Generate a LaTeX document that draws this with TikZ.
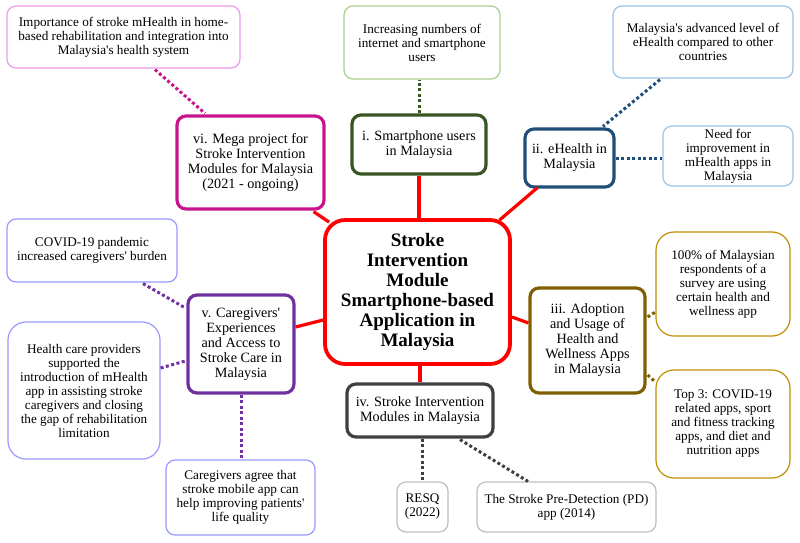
\documentclass[tikz,border=0pt]{standalone}
\usepackage{fontspec}
\setmainfont{Liberation Serif}[Ligatures=TeXOff]
\definecolor{pinkl}{HTML}{EE99EE}
\definecolor{magen}{HTML}{C8148C}
\definecolor{greenl}{HTML}{A9D18E}
\definecolor{greend}{HTML}{375623}
\definecolor{bluel}{HTML}{9DC3E6}
\definecolor{blued}{HTML}{1F4E79}
\definecolor{goldl}{HTML}{BF9000}
\definecolor{brownd}{HTML}{7F6000}
\definecolor{grayd}{HTML}{404040}
\definecolor{grayl}{HTML}{BFBFBF}
\definecolor{purpd}{HTML}{7030A0}
\definecolor{purpl}{HTML}{9999FF}
\definecolor{redc}{HTML}{FF0000}
\tikzset{
  leaf/.style={draw=#1, line width=1.2pt, rounded corners=9pt, fill=white, align=center, inner sep=0pt,
    font=\fontsize{13.2}{14}\selectfont},
  topic/.style={draw=#1, line width=3.2pt, rounded corners=9pt, fill=white, align=center, inner sep=0pt,
    font=\fontsize{14.2}{15}\selectfont},
  hub/.style={draw=redc, line width=3.8pt, rounded corners=20pt, fill=white, align=center, inner sep=0pt,
    font=\fontsize{19}{20}\selectfont\bfseries},
  redlink/.style={draw=redc, line width=3.2pt},
  dotlink/.style={draw=#1, line width=3pt, dash pattern=on 3pt off 2.5pt}
}
\begin{document}
\begin{tikzpicture}[x=1pt,y=-1pt]
\useasboundingbox[fill=white] (0,0) rectangle (800,542);
% leaves
\node[leaf=pinkl, minimum width=233pt, minimum height=62pt] (pink) at (123.5,37) {Importance of stroke mHealth in home-\\based rehabilitation and integration into\\Malaysia's health system};
\node[leaf=greenl, minimum width=156pt, minimum height=73pt] (inc) at (422,42.5) {Increasing numbers of\\internet and smartphone\\users};
\node[leaf=bluel, minimum width=180pt, minimum height=72pt] (adv) at (703,42) {Malaysia's advanced level of\\eHealth compared to other\\countries};
\node[leaf=bluel, minimum width=130pt, minimum height=60pt] (need) at (728,156) {Need for\\improvement in\\mHealth apps in\\Malaysia};
\node[leaf=goldl, minimum width=134pt, minimum height=104pt, rounded corners=18pt] (hundred) at (723,284) {100\% of Malaysian\\respondents of a\\survey are using\\certain health and\\wellness app};
\node[leaf=goldl, minimum width=134pt, minimum height=108pt, rounded corners=18pt] (top3) at (723,424) {Top 3: COVID-19\\related apps, sport\\and fitness tracking\\apps, and diet and\\nutrition apps};
\node[leaf=grayl, minimum width=51pt, minimum height=50pt] (resq) at (422.5,507) {RESQ\\(2022)};
\node[leaf=grayl, minimum width=179pt, minimum height=50pt] (pd) at (566.5,507) {The Stroke Pre-Detection (PD)\\app (2014)};
\node[leaf=purpl, minimum width=170pt, minimum height=63pt] (covid) at (92,250.5) {COVID-19 pandemic\\increased caregivers' burden};
\node[leaf=purpl, minimum width=152pt, minimum height=137pt, rounded corners=18pt] (hcp) at (84,390.5) {Health care providers\\supported the\\introduction of mHealth\\app in assisting stroke\\caregivers and closing\\the gap of rehabilitation\\limitation};
\node[leaf=purpl, minimum width=149pt, minimum height=75pt] (agree) at (240.5,497.5) {Caregivers agree that\\stroke mobile app can\\help improving patients'\\life quality};
% topics
\node[topic=magen, minimum width=147pt, minimum height=93pt] (vi) at (250.5,162.5) {vi. Mega project for\\Stroke Intervention\\Modules for Malaysia\\(2021 - ongoing)};
\node[topic=greend, minimum width=134pt, minimum height=59pt] (i) at (419,144.5) {i. Smartphone users\\in Malaysia};
\node[topic=blued, minimum width=89pt, minimum height=58pt] (ii) at (569.5,158) {ii. eHealth in\\Malaysia};
\node[topic=brownd, minimum width=115pt, minimum height=105pt] (iii) at (587.5,340.5) {iii. Adoption\\and Usage of\\Health and\\Wellness Apps\\in Malaysia};
\node[topic=grayd, minimum width=146pt, minimum height=53pt] (iv) at (420,410.5) {iv. Stroke Intervention\\Modules in Malaysia};
\node[topic=purpd, minimum width=106pt, minimum height=98pt] (v) at (241,344) {v. Caregivers'\\Experiences\\and Access to\\Stroke Care in\\Malaysia};
% hub
\node[hub, minimum width=185pt, minimum height=144pt] (hub) at (417.5,292) {Stroke\\Intervention\\Module\\Smartphone-based\\Application in\\Malaysia};
% red links
\draw[redlink] (i.south) -- (i.south |- hub.north);
\draw[redlink] ([shift={(82,2)}]hub.north) -- ([shift={(-32,-1)}]ii.south);
\draw[redlink] ([shift={(0,25)}]hub.east) -- ([shift={(0,-17.5)}]iii.west);
\draw[redlink] (hub.south -| iv.north) -- (iv.north);
\draw[redlink] ([shift={(0,-17)}]v.east) -- ([shift={(0,28)}]hub.west);
\draw[redlink] ([shift={(63,1)}]vi.south) -- ([shift={(6,4)}]hub.north west);
% dotted links
\draw[dotlink=magen] ([shift={(31.5,1)}]pink.south) -- ([shift={(-45.5,-1)}]vi.north);
\draw[dotlink=greend] (i.north) -- (i.north |- inc.south);
\draw[dotlink=blued] ([shift={(-43,1)}]adv.south) -- ([shift={(33.5,-1)}]ii.north);
\draw[dotlink=blued] (ii.east) -- (ii.east -| need.west);
\draw[dotlink=brownd] ([shift={(1,-23.5)}]iii.east) -- ([shift={(0,28)}]hundred.west);
\draw[dotlink=brownd] ([shift={(1,34.5)}]iii.east) -- ([shift={(0,-42)}]top3.west);
\draw[dotlink=grayd] (resq.north |- iv.south) -- (resq.north);
\draw[dotlink=grayd] ([shift={(40,1)}]iv.south) -- ([shift={(-38.5,0)}]pd.north);
\draw[dotlink=purpd] ([shift={(51,1)}]covid.south) -- ([shift={(-1,-36)}]v.west);
\draw[dotlink=purpd] ([shift={(0,-22.5)}]hcp.east) -- ([shift={(-1,17)}]v.west);
\draw[dotlink=purpd] (v.south) -- (v.south |- agree.north);
\end{tikzpicture}
\end{document}
